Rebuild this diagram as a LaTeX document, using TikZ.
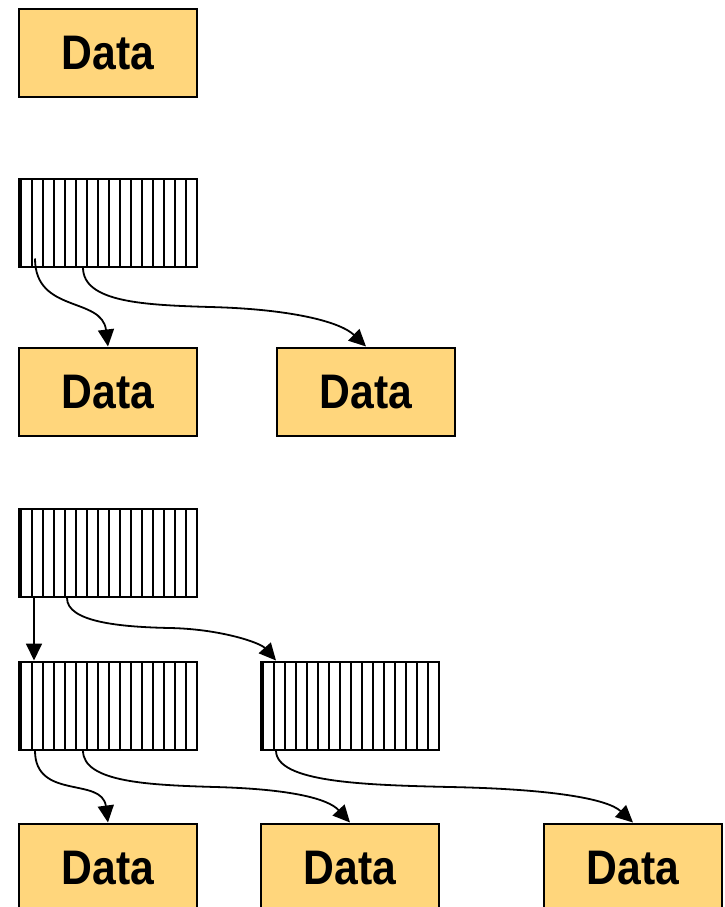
\documentclass[tikz,border=0pt]{standalone}
\usepackage{fontspec}
\setmainfont{Liberation Sans}
\newfontfamily\datafont{Liberation Sans}[FakeStretch=0.88]
\usetikzlibrary{arrows.meta}
\definecolor{datafill}{HTML}{FFD67C}

\tikzset{
  databox/.style={draw=black, line width=2pt, fill=datafill,
    minimum width=178pt, minimum height=88pt, inner sep=0pt,
    text depth=-4pt,
    font=\datafont\bfseries\fontsize{48.5}{50}\selectfont},
  stripebox/.style={draw=black, line width=2pt, fill=white,
    minimum width=178pt, minimum height=88pt, inner sep=0pt,
    path picture={
      \foreach \k in {1,...,16}{
        \draw[line width=2.2pt]
          ([xshift=-\k*11pt]path picture bounding box.south east) --
          ([xshift=-\k*11pt]path picture bounding box.north east);
      }}},
  conn/.style={draw=black, line width=1.8pt,
    -{Triangle[length=17pt,width=16pt]}}
}

\begin{document}
\begin{tikzpicture}[x=1pt,y=-1pt]
  \useasboundingbox (0,0) rectangle (725,907);

  % single block
  \node[databox] (d1) at (108,53) {Data};

  % one index level
  \node[stripebox] (s1) at (108,222.5) {};
  \node[databox] (d2a) at (108,391.5) {Data};
  \node[databox] (d2b) at (366,391.5) {Data};

  % two index levels
  \node[stripebox] (s2) at (108,553) {};
  \node[stripebox] (s3a) at (108,705.5) {};
  \node[stripebox] (s3b) at (350,705.5) {};
  \node[databox] (d3a) at (108,867.5) {Data};
  \node[databox] (d3b) at (350,867.5) {Data};
  \node[databox] (d3c) at (633,867.5) {Data};

  % pointers
  \draw[conn] ([xshift=17pt,yshift=9pt]s1.south west)
     .. controls +(0,55) and +(-6,-50) .. (d2a.north);
  \draw[conn] ([xshift=65pt]s1.south west)
     .. controls +(0,35) and +(-65,-2) .. (210,307)
     .. controls +(80,2) and +(-26,-25) .. (d2b.north);

  \draw[conn] ([xshift=16pt]s2.south west) -- ([xshift=16pt]s3a.north west);
  \draw[conn] ([xshift=49pt]s2.south west)
     .. controls +(0,24) and +(-50,-1) .. (170,628)
     .. controls +(50,1) and +(-16,-18) .. ([xshift=16pt]s3b.north west);

  \draw[conn] ([xshift=17pt]s3a.south west)
     .. controls +(0,50) and +(-6,-46) .. (d3a.north);
  \draw[conn] ([xshift=65pt]s3a.south west)
     .. controls +(0,32) and +(-65,-2) .. (215,787)
     .. controls +(75,2) and +(-22,-24) .. (d3b.north);
  \draw[conn] ([xshift=16pt]s3b.south west)
     .. controls +(0,32) and +(-85,-2) .. (450,787)
     .. controls +(100,2) and +(-26,-24) .. (d3c.north);
\end{tikzpicture}
\end{document}
